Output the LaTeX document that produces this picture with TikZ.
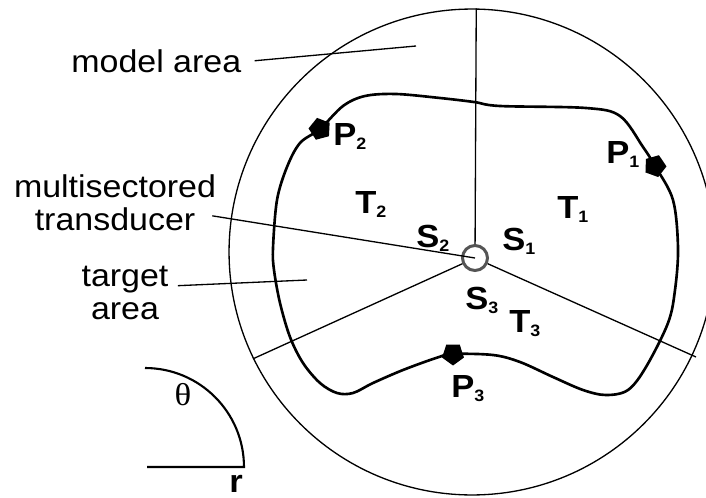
\documentclass[tikz,border=0pt]{standalone}
\usepackage{fontspec}
\setmainfont[FakeStretch=1.08]{Liberation Sans}
\newfontfamily\greekfont[FakeStretch=1.1]{Liberation Serif}
\usetikzlibrary{shapes.geometric}
\definecolor{Ink}{HTML}{000000}
\definecolor{RingGray}{HTML}{555555}
\newcommand{\idx}[1]{\raisebox{-2.8pt}{\fontsize{9.4}{10}\selectfont #1}}

\begin{document}
\begin{tikzpicture}[x=0.02cm,y=-0.02cm,
  lbl/.style={inner sep=0pt,font=\fontsize{17.9}{18.8}\selectfont,align=center},
  tag/.style={inner sep=0pt,anchor=base west,font=\bfseries\fontsize{18.2}{20}\selectfont},
  thinline/.style={line width=0.75pt,draw=Ink},
  contour/.style={line width=1.5pt,draw=Ink},
  marker/.style={regular polygon,regular polygon sides=5,fill=Ink,inner sep=0pt,minimum size=0.46cm}
]
\useasboundingbox (0,0) rectangle (706,497);
\node[circle,thinline,minimum size=9.72cm,inner sep=0pt] (rim) at (472,252) {};
\node[circle,draw=RingGray,line width=1.7pt,fill=white,minimum size=0.5cm,inner sep=0pt] (xdcr) at (475,258) {};
\coordinate (rimcut) at (696,357);
\draw[thinline] (xdcr) -- (rim.89.5);
\draw[thinline] (xdcr) -- (rim.206);
\draw[thinline] (xdcr) -- (rimcut);

\draw[contour] plot[smooth cycle,tension=0.55] coordinates {
  (320,129) (343,106) (365,96) (396,94) (440,98) (474,102) (500,106) (586,108)
  (620,116) (643,147) (655,166) (673,200) (678,248) (675,290) (668,323) (646,367)
  (628,390) (606,395) (583,390) (553,377) (520,362) (493,355) (453,354) (436,358)
  (403,370) (373,383) (353,393) (337,393) (320,383) (303,363) (290,337) (280,303)
  (274,270) (273,248) (277,200) (287,167) (300,143)};

\node[marker,rotate=15] (m2) at (320,129) {};
\node[marker,rotate=-20] (m1) at (655,166) {};
\node[marker,rotate=180] (m3) at (453,354) {};

\node[lbl,anchor=base west] (modellbl) at (71,72) {model area};
\node[lbl,anchor=north] (xdcrlbl) at (115,174) {multisectored\\transducer};
\node[lbl,anchor=north] (targetlbl) at (125,266) {target\\area};
\coordinate (modeltip) at (416,46);
\coordinate (targettip) at (307,280);
\draw[thinline] ([xshift=0.26cm]modellbl.east) -- (modeltip);
\draw[thinline] ([xshift=-0.08cm,yshift=0.3cm]xdcrlbl.south east) -- (xdcr.center);
\draw[thinline] ([xshift=0.18cm,yshift=0.15cm]targetlbl.east) -- (targettip);

\node[tag] (p2) at (333,145) {P\idx{2}};
\node[tag] (p1) at (606,163) {P\idx{1}};
\node[tag] (p3) at (451,397) {P\idx{3}};
\node[tag] (t2) at (355,213) {T\idx{2}};
\node[tag] (t1) at (557,218) {T\idx{1}};
\node[tag] (t3) at (509,332) {T\idx{3}};
\node[tag] (s2) at (416,247) {S\idx{2}};
\node[tag] (s1) at (502,250) {S\idx{1}};
\node[tag] (s3) at (465,309) {S\idx{3}};

\draw[line width=1.2pt,draw=Ink] (145,368) arc[start angle=90,end angle=0,radius=1.98cm] -- (147,467);
\node[inner sep=0pt,anchor=base,font=\greekfont\fontsize{18}{20}\selectfont] (thetalbl) at (183,405) {θ};
\node[tag,anchor=base] (rlbl) at (236,492) {r};
\end{tikzpicture}
\end{document}
